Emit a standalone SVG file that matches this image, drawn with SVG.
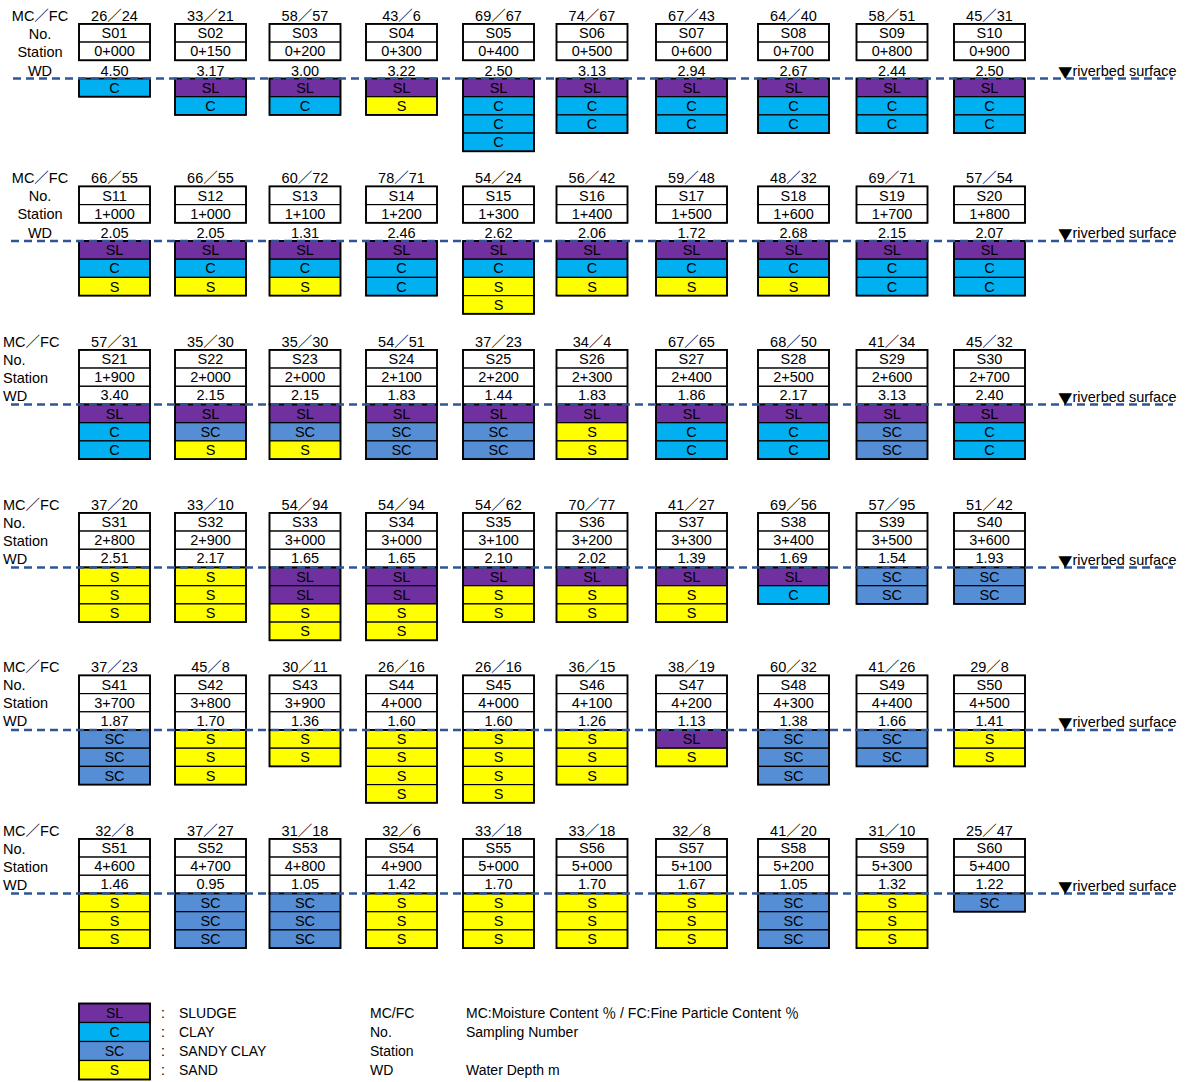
<svg xmlns="http://www.w3.org/2000/svg" width="1192" height="1082" viewBox="0 0 1192 1082">
<style>
text{font-family:"Liberation Sans","Noto Sans CJK JP",sans-serif;font-size:14.5px;fill:#000;dominant-baseline:central}
.v{text-anchor:middle}
.lc{text-anchor:middle}
.tri{font-family:"Noto Sans CJK JP",sans-serif}
#legend text{font-size:14px}
rect{stroke:#000;stroke-width:1.2}
.h{fill:#fff}
.SL{fill:#7030A0}
.C{fill:#00B0F0}
.SC{fill:#558ED5}
.S{fill:#FFFF00}
.o{fill:none;stroke-width:1.8}
.dash{stroke:#2F5597;stroke-width:2.4;stroke-dasharray:8 5;fill:none}
</style>
<defs>
<g id="hdr3"><rect class="h" x="0" y="-54.6" width="71" height="18.2"/><rect class="h" x="0" y="-36.4" width="71" height="18.2"/><rect class="h" x="0" y="-18.2" width="71" height="18.2"/><rect class="o" x="0" y="-54.6" width="71" height="54.6"/></g>
<g id="hdr2"><rect class="h" x="0" y="-54.6" width="71" height="18.2"/><rect class="h" x="0" y="-36.4" width="71" height="18.2"/><rect class="o" x="0" y="-54.6" width="71" height="36.4"/></g>
</defs>

<!-- Row labels -->
<g id="labels-row1"><text class="lc" x="40" y="15.5">MC／FC</text><text class="lc" x="40" y="33.5">No.</text><text class="lc" x="40" y="51.5">Station</text><text class="lc" x="40" y="70.5">WD</text></g>
<g id="labels-row2"><text class="lc" x="40" y="178">MC／FC</text><text class="lc" x="40" y="196">No.</text><text class="lc" x="40" y="214">Station</text><text class="lc" x="40" y="233">WD</text></g>
<g id="labels-row3"><text x="3" y="341.5">MC／FC</text><text x="3" y="359.5">No.</text><text x="3" y="377.5">Station</text><text x="3" y="395.5">WD</text></g>
<g id="labels-row4"><text x="3" y="504.5">MC／FC</text><text x="3" y="522.5">No.</text><text x="3" y="540.5">Station</text><text x="3" y="558.5">WD</text></g>
<g id="labels-row5"><text x="3" y="667">MC／FC</text><text x="3" y="685">No.</text><text x="3" y="703">Station</text><text x="3" y="721">WD</text></g>
<g id="labels-row6"><text x="3" y="830.5">MC／FC</text><text x="3" y="848.5">No.</text><text x="3" y="866.5">Station</text><text x="3" y="884.5">WD</text></g>

<!-- ROW 1 -->
<g id="S01" transform="translate(79,78.5)"><use href="#hdr2"/><text class="v" x="35.5" y="-63">26／24</text><text class="v" x="35.5" y="-45.5">S01</text><text class="v" x="35.5" y="-27.3">0+000</text><text class="v" x="35.5" y="-8">4.50</text>
<rect class="C" x="0" y="0" width="71" height="18.2"/><text class="v" x="35.5" y="9.1">C</text><rect class="o" x="0" y="0" width="71" height="18.2"/></g>
<g id="S02" transform="translate(175,78.5)"><use href="#hdr2"/><text class="v" x="35.5" y="-63">33／21</text><text class="v" x="35.5" y="-45.5">S02</text><text class="v" x="35.5" y="-27.3">0+150</text><text class="v" x="35.5" y="-8">3.17</text>
<rect class="SL" x="0" y="0" width="71" height="18.2"/><text class="v" x="35.5" y="9.1">SL</text><rect class="C" x="0" y="18.2" width="71" height="18.2"/><text class="v" x="35.5" y="27.3">C</text><rect class="o" x="0" y="0" width="71" height="36.4"/></g>
<g id="S03" transform="translate(269.5,78.5)"><use href="#hdr2"/><text class="v" x="35.5" y="-63">58／57</text><text class="v" x="35.5" y="-45.5">S03</text><text class="v" x="35.5" y="-27.3">0+200</text><text class="v" x="35.5" y="-8">3.00</text>
<rect class="SL" x="0" y="0" width="71" height="18.2"/><text class="v" x="35.5" y="9.1">SL</text><rect class="C" x="0" y="18.2" width="71" height="18.2"/><text class="v" x="35.5" y="27.3">C</text><rect class="o" x="0" y="0" width="71" height="36.4"/></g>
<g id="S04" transform="translate(366,78.5)"><use href="#hdr2"/><text class="v" x="35.5" y="-63">43／6</text><text class="v" x="35.5" y="-45.5">S04</text><text class="v" x="35.5" y="-27.3">0+300</text><text class="v" x="35.5" y="-8">3.22</text>
<rect class="SL" x="0" y="0" width="71" height="18.2"/><text class="v" x="35.5" y="9.1">SL</text><rect class="S" x="0" y="18.2" width="71" height="18.2"/><text class="v" x="35.5" y="27.3">S</text><rect class="o" x="0" y="0" width="71" height="36.4"/></g>
<g id="S05" transform="translate(463,78.5)"><use href="#hdr2"/><text class="v" x="35.5" y="-63">69／67</text><text class="v" x="35.5" y="-45.5">S05</text><text class="v" x="35.5" y="-27.3">0+400</text><text class="v" x="35.5" y="-8">2.50</text>
<rect class="SL" x="0" y="0" width="71" height="18.2"/><text class="v" x="35.5" y="9.1">SL</text><rect class="C" x="0" y="18.2" width="71" height="18.2"/><text class="v" x="35.5" y="27.3">C</text><rect class="C" x="0" y="36.4" width="71" height="18.2"/><text class="v" x="35.5" y="45.5">C</text><rect class="C" x="0" y="54.6" width="71" height="18.2"/><text class="v" x="35.5" y="63.7">C</text><rect class="o" x="0" y="0" width="71" height="72.8"/></g>
<g id="S06" transform="translate(556.5,78.5)"><use href="#hdr2"/><text class="v" x="35.5" y="-63">74／67</text><text class="v" x="35.5" y="-45.5">S06</text><text class="v" x="35.5" y="-27.3">0+500</text><text class="v" x="35.5" y="-8">3.13</text>
<rect class="SL" x="0" y="0" width="71" height="18.2"/><text class="v" x="35.5" y="9.1">SL</text><rect class="C" x="0" y="18.2" width="71" height="18.2"/><text class="v" x="35.5" y="27.3">C</text><rect class="C" x="0" y="36.4" width="71" height="18.2"/><text class="v" x="35.5" y="45.5">C</text><rect class="o" x="0" y="0" width="71" height="54.6"/></g>
<g id="S07" transform="translate(656,78.5)"><use href="#hdr2"/><text class="v" x="35.5" y="-63">67／43</text><text class="v" x="35.5" y="-45.5">S07</text><text class="v" x="35.5" y="-27.3">0+600</text><text class="v" x="35.5" y="-8">2.94</text>
<rect class="SL" x="0" y="0" width="71" height="18.2"/><text class="v" x="35.5" y="9.1">SL</text><rect class="C" x="0" y="18.2" width="71" height="18.2"/><text class="v" x="35.5" y="27.3">C</text><rect class="C" x="0" y="36.4" width="71" height="18.2"/><text class="v" x="35.5" y="45.5">C</text><rect class="o" x="0" y="0" width="71" height="54.6"/></g>
<g id="S08" transform="translate(758,78.5)"><use href="#hdr2"/><text class="v" x="35.5" y="-63">64／40</text><text class="v" x="35.5" y="-45.5">S08</text><text class="v" x="35.5" y="-27.3">0+700</text><text class="v" x="35.5" y="-8">2.67</text>
<rect class="SL" x="0" y="0" width="71" height="18.2"/><text class="v" x="35.5" y="9.1">SL</text><rect class="C" x="0" y="18.2" width="71" height="18.2"/><text class="v" x="35.5" y="27.3">C</text><rect class="C" x="0" y="36.4" width="71" height="18.2"/><text class="v" x="35.5" y="45.5">C</text><rect class="o" x="0" y="0" width="71" height="54.6"/></g>
<g id="S09" transform="translate(856.5,78.5)"><use href="#hdr2"/><text class="v" x="35.5" y="-63">58／51</text><text class="v" x="35.5" y="-45.5">S09</text><text class="v" x="35.5" y="-27.3">0+800</text><text class="v" x="35.5" y="-8">2.44</text>
<rect class="SL" x="0" y="0" width="71" height="18.2"/><text class="v" x="35.5" y="9.1">SL</text><rect class="C" x="0" y="18.2" width="71" height="18.2"/><text class="v" x="35.5" y="27.3">C</text><rect class="C" x="0" y="36.4" width="71" height="18.2"/><text class="v" x="35.5" y="45.5">C</text><rect class="o" x="0" y="0" width="71" height="54.6"/></g>
<g id="S10" transform="translate(954,78.5)"><use href="#hdr2"/><text class="v" x="35.5" y="-63">45／31</text><text class="v" x="35.5" y="-45.5">S10</text><text class="v" x="35.5" y="-27.3">0+900</text><text class="v" x="35.5" y="-8">2.50</text>
<rect class="SL" x="0" y="0" width="71" height="18.2"/><text class="v" x="35.5" y="9.1">SL</text><rect class="C" x="0" y="18.2" width="71" height="18.2"/><text class="v" x="35.5" y="27.3">C</text><rect class="C" x="0" y="36.4" width="71" height="18.2"/><text class="v" x="35.5" y="45.5">C</text><rect class="o" x="0" y="0" width="71" height="54.6"/></g>

<!-- ROW 2 -->
<g id="S11" transform="translate(79,241)"><use href="#hdr2"/><text class="v" x="35.5" y="-63">66／55</text><text class="v" x="35.5" y="-45.5">S11</text><text class="v" x="35.5" y="-27.3">1+000</text><text class="v" x="35.5" y="-8">2.05</text>
<rect class="SL" x="0" y="0" width="71" height="18.2"/><text class="v" x="35.5" y="9.1">SL</text><rect class="C" x="0" y="18.2" width="71" height="18.2"/><text class="v" x="35.5" y="27.3">C</text><rect class="S" x="0" y="36.4" width="71" height="18.2"/><text class="v" x="35.5" y="45.5">S</text><rect class="o" x="0" y="0" width="71" height="54.6"/></g>
<g id="S12" transform="translate(175,241)"><use href="#hdr2"/><text class="v" x="35.5" y="-63">66／55</text><text class="v" x="35.5" y="-45.5">S12</text><text class="v" x="35.5" y="-27.3">1+000</text><text class="v" x="35.5" y="-8">2.05</text>
<rect class="SL" x="0" y="0" width="71" height="18.2"/><text class="v" x="35.5" y="9.1">SL</text><rect class="C" x="0" y="18.2" width="71" height="18.2"/><text class="v" x="35.5" y="27.3">C</text><rect class="S" x="0" y="36.4" width="71" height="18.2"/><text class="v" x="35.5" y="45.5">S</text><rect class="o" x="0" y="0" width="71" height="54.6"/></g>
<g id="S13" transform="translate(269.5,241)"><use href="#hdr2"/><text class="v" x="35.5" y="-63">60／72</text><text class="v" x="35.5" y="-45.5">S13</text><text class="v" x="35.5" y="-27.3">1+100</text><text class="v" x="35.5" y="-8">1.31</text>
<rect class="SL" x="0" y="0" width="71" height="18.2"/><text class="v" x="35.5" y="9.1">SL</text><rect class="C" x="0" y="18.2" width="71" height="18.2"/><text class="v" x="35.5" y="27.3">C</text><rect class="S" x="0" y="36.4" width="71" height="18.2"/><text class="v" x="35.5" y="45.5">S</text><rect class="o" x="0" y="0" width="71" height="54.6"/></g>
<g id="S14" transform="translate(366,241)"><use href="#hdr2"/><text class="v" x="35.5" y="-63">78／71</text><text class="v" x="35.5" y="-45.5">S14</text><text class="v" x="35.5" y="-27.3">1+200</text><text class="v" x="35.5" y="-8">2.46</text>
<rect class="SL" x="0" y="0" width="71" height="18.2"/><text class="v" x="35.5" y="9.1">SL</text><rect class="C" x="0" y="18.2" width="71" height="18.2"/><text class="v" x="35.5" y="27.3">C</text><rect class="C" x="0" y="36.4" width="71" height="18.2"/><text class="v" x="35.5" y="45.5">C</text><rect class="o" x="0" y="0" width="71" height="54.6"/></g>
<g id="S15" transform="translate(463,241)"><use href="#hdr2"/><text class="v" x="35.5" y="-63">54／24</text><text class="v" x="35.5" y="-45.5">S15</text><text class="v" x="35.5" y="-27.3">1+300</text><text class="v" x="35.5" y="-8">2.62</text>
<rect class="SL" x="0" y="0" width="71" height="18.2"/><text class="v" x="35.5" y="9.1">SL</text><rect class="C" x="0" y="18.2" width="71" height="18.2"/><text class="v" x="35.5" y="27.3">C</text><rect class="S" x="0" y="36.4" width="71" height="18.2"/><text class="v" x="35.5" y="45.5">S</text><rect class="S" x="0" y="54.6" width="71" height="18.2"/><text class="v" x="35.5" y="63.7">S</text><rect class="o" x="0" y="0" width="71" height="72.8"/></g>
<g id="S16" transform="translate(556.5,241)"><use href="#hdr2"/><text class="v" x="35.5" y="-63">56／42</text><text class="v" x="35.5" y="-45.5">S16</text><text class="v" x="35.5" y="-27.3">1+400</text><text class="v" x="35.5" y="-8">2.06</text>
<rect class="SL" x="0" y="0" width="71" height="18.2"/><text class="v" x="35.5" y="9.1">SL</text><rect class="C" x="0" y="18.2" width="71" height="18.2"/><text class="v" x="35.5" y="27.3">C</text><rect class="S" x="0" y="36.4" width="71" height="18.2"/><text class="v" x="35.5" y="45.5">S</text><rect class="o" x="0" y="0" width="71" height="54.6"/></g>
<g id="S17" transform="translate(656,241)"><use href="#hdr2"/><text class="v" x="35.5" y="-63">59／48</text><text class="v" x="35.5" y="-45.5">S17</text><text class="v" x="35.5" y="-27.3">1+500</text><text class="v" x="35.5" y="-8">1.72</text>
<rect class="SL" x="0" y="0" width="71" height="18.2"/><text class="v" x="35.5" y="9.1">SL</text><rect class="C" x="0" y="18.2" width="71" height="18.2"/><text class="v" x="35.5" y="27.3">C</text><rect class="S" x="0" y="36.4" width="71" height="18.2"/><text class="v" x="35.5" y="45.5">S</text><rect class="o" x="0" y="0" width="71" height="54.6"/></g>
<g id="S18" transform="translate(758,241)"><use href="#hdr2"/><text class="v" x="35.5" y="-63">48／32</text><text class="v" x="35.5" y="-45.5">S18</text><text class="v" x="35.5" y="-27.3">1+600</text><text class="v" x="35.5" y="-8">2.68</text>
<rect class="SL" x="0" y="0" width="71" height="18.2"/><text class="v" x="35.5" y="9.1">SL</text><rect class="C" x="0" y="18.2" width="71" height="18.2"/><text class="v" x="35.5" y="27.3">C</text><rect class="S" x="0" y="36.4" width="71" height="18.2"/><text class="v" x="35.5" y="45.5">S</text><rect class="o" x="0" y="0" width="71" height="54.6"/></g>
<g id="S19" transform="translate(856.5,241)"><use href="#hdr2"/><text class="v" x="35.5" y="-63">69／71</text><text class="v" x="35.5" y="-45.5">S19</text><text class="v" x="35.5" y="-27.3">1+700</text><text class="v" x="35.5" y="-8">2.15</text>
<rect class="SL" x="0" y="0" width="71" height="18.2"/><text class="v" x="35.5" y="9.1">SL</text><rect class="C" x="0" y="18.2" width="71" height="18.2"/><text class="v" x="35.5" y="27.3">C</text><rect class="C" x="0" y="36.4" width="71" height="18.2"/><text class="v" x="35.5" y="45.5">C</text><rect class="o" x="0" y="0" width="71" height="54.6"/></g>
<g id="S20" transform="translate(954,241)"><use href="#hdr2"/><text class="v" x="35.5" y="-63">57／54</text><text class="v" x="35.5" y="-45.5">S20</text><text class="v" x="35.5" y="-27.3">1+800</text><text class="v" x="35.5" y="-8">2.07</text>
<rect class="SL" x="0" y="0" width="71" height="18.2"/><text class="v" x="35.5" y="9.1">SL</text><rect class="C" x="0" y="18.2" width="71" height="18.2"/><text class="v" x="35.5" y="27.3">C</text><rect class="C" x="0" y="36.4" width="71" height="18.2"/><text class="v" x="35.5" y="45.5">C</text><rect class="o" x="0" y="0" width="71" height="54.6"/></g>

<!-- ROW 3 -->
<g id="S21" transform="translate(79,404.5)"><use href="#hdr3"/><text class="v" x="35.5" y="-63">57／31</text><text class="v" x="35.5" y="-45.5">S21</text><text class="v" x="35.5" y="-27.3">1+900</text><text class="v" x="35.5" y="-9.1">3.40</text>
<rect class="SL" x="0" y="0" width="71" height="18.2"/><text class="v" x="35.5" y="9.1">SL</text><rect class="C" x="0" y="18.2" width="71" height="18.2"/><text class="v" x="35.5" y="27.3">C</text><rect class="C" x="0" y="36.4" width="71" height="18.2"/><text class="v" x="35.5" y="45.5">C</text><rect class="o" x="0" y="0" width="71" height="54.6"/></g>
<g id="S22" transform="translate(175,404.5)"><use href="#hdr3"/><text class="v" x="35.5" y="-63">35／30</text><text class="v" x="35.5" y="-45.5">S22</text><text class="v" x="35.5" y="-27.3">2+000</text><text class="v" x="35.5" y="-9.1">2.15</text>
<rect class="SL" x="0" y="0" width="71" height="18.2"/><text class="v" x="35.5" y="9.1">SL</text><rect class="SC" x="0" y="18.2" width="71" height="18.2"/><text class="v" x="35.5" y="27.3">SC</text><rect class="S" x="0" y="36.4" width="71" height="18.2"/><text class="v" x="35.5" y="45.5">S</text><rect class="o" x="0" y="0" width="71" height="54.6"/></g>
<g id="S23" transform="translate(269.5,404.5)"><use href="#hdr3"/><text class="v" x="35.5" y="-63">35／30</text><text class="v" x="35.5" y="-45.5">S23</text><text class="v" x="35.5" y="-27.3">2+000</text><text class="v" x="35.5" y="-9.1">2.15</text>
<rect class="SL" x="0" y="0" width="71" height="18.2"/><text class="v" x="35.5" y="9.1">SL</text><rect class="SC" x="0" y="18.2" width="71" height="18.2"/><text class="v" x="35.5" y="27.3">SC</text><rect class="S" x="0" y="36.4" width="71" height="18.2"/><text class="v" x="35.5" y="45.5">S</text><rect class="o" x="0" y="0" width="71" height="54.6"/></g>
<g id="S24" transform="translate(366,404.5)"><use href="#hdr3"/><text class="v" x="35.5" y="-63">54／51</text><text class="v" x="35.5" y="-45.5">S24</text><text class="v" x="35.5" y="-27.3">2+100</text><text class="v" x="35.5" y="-9.1">1.83</text>
<rect class="SL" x="0" y="0" width="71" height="18.2"/><text class="v" x="35.5" y="9.1">SL</text><rect class="SC" x="0" y="18.2" width="71" height="18.2"/><text class="v" x="35.5" y="27.3">SC</text><rect class="SC" x="0" y="36.4" width="71" height="18.2"/><text class="v" x="35.5" y="45.5">SC</text><rect class="o" x="0" y="0" width="71" height="54.6"/></g>
<g id="S25" transform="translate(463,404.5)"><use href="#hdr3"/><text class="v" x="35.5" y="-63">37／23</text><text class="v" x="35.5" y="-45.5">S25</text><text class="v" x="35.5" y="-27.3">2+200</text><text class="v" x="35.5" y="-9.1">1.44</text>
<rect class="SL" x="0" y="0" width="71" height="18.2"/><text class="v" x="35.5" y="9.1">SL</text><rect class="SC" x="0" y="18.2" width="71" height="18.2"/><text class="v" x="35.5" y="27.3">SC</text><rect class="SC" x="0" y="36.4" width="71" height="18.2"/><text class="v" x="35.5" y="45.5">SC</text><rect class="o" x="0" y="0" width="71" height="54.6"/></g>
<g id="S26" transform="translate(556.5,404.5)"><use href="#hdr3"/><text class="v" x="35.5" y="-63">34／4</text><text class="v" x="35.5" y="-45.5">S26</text><text class="v" x="35.5" y="-27.3">2+300</text><text class="v" x="35.5" y="-9.1">1.83</text>
<rect class="SL" x="0" y="0" width="71" height="18.2"/><text class="v" x="35.5" y="9.1">SL</text><rect class="S" x="0" y="18.2" width="71" height="18.2"/><text class="v" x="35.5" y="27.3">S</text><rect class="S" x="0" y="36.4" width="71" height="18.2"/><text class="v" x="35.5" y="45.5">S</text><rect class="o" x="0" y="0" width="71" height="54.6"/></g>
<g id="S27" transform="translate(656,404.5)"><use href="#hdr3"/><text class="v" x="35.5" y="-63">67／65</text><text class="v" x="35.5" y="-45.5">S27</text><text class="v" x="35.5" y="-27.3">2+400</text><text class="v" x="35.5" y="-9.1">1.86</text>
<rect class="SL" x="0" y="0" width="71" height="18.2"/><text class="v" x="35.5" y="9.1">SL</text><rect class="C" x="0" y="18.2" width="71" height="18.2"/><text class="v" x="35.5" y="27.3">C</text><rect class="C" x="0" y="36.4" width="71" height="18.2"/><text class="v" x="35.5" y="45.5">C</text><rect class="o" x="0" y="0" width="71" height="54.6"/></g>
<g id="S28" transform="translate(758,404.5)"><use href="#hdr3"/><text class="v" x="35.5" y="-63">68／50</text><text class="v" x="35.5" y="-45.5">S28</text><text class="v" x="35.5" y="-27.3">2+500</text><text class="v" x="35.5" y="-9.1">2.17</text>
<rect class="SL" x="0" y="0" width="71" height="18.2"/><text class="v" x="35.5" y="9.1">SL</text><rect class="C" x="0" y="18.2" width="71" height="18.2"/><text class="v" x="35.5" y="27.3">C</text><rect class="C" x="0" y="36.4" width="71" height="18.2"/><text class="v" x="35.5" y="45.5">C</text><rect class="o" x="0" y="0" width="71" height="54.6"/></g>
<g id="S29" transform="translate(856.5,404.5)"><use href="#hdr3"/><text class="v" x="35.5" y="-63">41／34</text><text class="v" x="35.5" y="-45.5">S29</text><text class="v" x="35.5" y="-27.3">2+600</text><text class="v" x="35.5" y="-9.1">3.13</text>
<rect class="SL" x="0" y="0" width="71" height="18.2"/><text class="v" x="35.5" y="9.1">SL</text><rect class="SC" x="0" y="18.2" width="71" height="18.2"/><text class="v" x="35.5" y="27.3">SC</text><rect class="SC" x="0" y="36.4" width="71" height="18.2"/><text class="v" x="35.5" y="45.5">SC</text><rect class="o" x="0" y="0" width="71" height="54.6"/></g>
<g id="S30" transform="translate(954,404.5)"><use href="#hdr3"/><text class="v" x="35.5" y="-63">45／32</text><text class="v" x="35.5" y="-45.5">S30</text><text class="v" x="35.5" y="-27.3">2+700</text><text class="v" x="35.5" y="-9.1">2.40</text>
<rect class="SL" x="0" y="0" width="71" height="18.2"/><text class="v" x="35.5" y="9.1">SL</text><rect class="C" x="0" y="18.2" width="71" height="18.2"/><text class="v" x="35.5" y="27.3">C</text><rect class="C" x="0" y="36.4" width="71" height="18.2"/><text class="v" x="35.5" y="45.5">C</text><rect class="o" x="0" y="0" width="71" height="54.6"/></g>

<!-- ROW 4 -->
<g id="S31" transform="translate(79,567.5)"><use href="#hdr3"/><text class="v" x="35.5" y="-63">37／20</text><text class="v" x="35.5" y="-45.5">S31</text><text class="v" x="35.5" y="-27.3">2+800</text><text class="v" x="35.5" y="-9.1">2.51</text>
<rect class="S" x="0" y="0" width="71" height="18.2"/><text class="v" x="35.5" y="9.1">S</text><rect class="S" x="0" y="18.2" width="71" height="18.2"/><text class="v" x="35.5" y="27.3">S</text><rect class="S" x="0" y="36.4" width="71" height="18.2"/><text class="v" x="35.5" y="45.5">S</text><rect class="o" x="0" y="0" width="71" height="54.6"/></g>
<g id="S32" transform="translate(175,567.5)"><use href="#hdr3"/><text class="v" x="35.5" y="-63">33／10</text><text class="v" x="35.5" y="-45.5">S32</text><text class="v" x="35.5" y="-27.3">2+900</text><text class="v" x="35.5" y="-9.1">2.17</text>
<rect class="S" x="0" y="0" width="71" height="18.2"/><text class="v" x="35.5" y="9.1">S</text><rect class="S" x="0" y="18.2" width="71" height="18.2"/><text class="v" x="35.5" y="27.3">S</text><rect class="S" x="0" y="36.4" width="71" height="18.2"/><text class="v" x="35.5" y="45.5">S</text><rect class="o" x="0" y="0" width="71" height="54.6"/></g>
<g id="S33" transform="translate(269.5,567.5)"><use href="#hdr3"/><text class="v" x="35.5" y="-63">54／94</text><text class="v" x="35.5" y="-45.5">S33</text><text class="v" x="35.5" y="-27.3">3+000</text><text class="v" x="35.5" y="-9.1">1.65</text>
<rect class="SL" x="0" y="0" width="71" height="18.2"/><text class="v" x="35.5" y="9.1">SL</text><rect class="SL" x="0" y="18.2" width="71" height="18.2"/><text class="v" x="35.5" y="27.3">SL</text><rect class="S" x="0" y="36.4" width="71" height="18.2"/><text class="v" x="35.5" y="45.5">S</text><rect class="S" x="0" y="54.6" width="71" height="18.2"/><text class="v" x="35.5" y="63.7">S</text><rect class="o" x="0" y="0" width="71" height="72.8"/></g>
<g id="S34" transform="translate(366,567.5)"><use href="#hdr3"/><text class="v" x="35.5" y="-63">54／94</text><text class="v" x="35.5" y="-45.5">S34</text><text class="v" x="35.5" y="-27.3">3+000</text><text class="v" x="35.5" y="-9.1">1.65</text>
<rect class="SL" x="0" y="0" width="71" height="18.2"/><text class="v" x="35.5" y="9.1">SL</text><rect class="SL" x="0" y="18.2" width="71" height="18.2"/><text class="v" x="35.5" y="27.3">SL</text><rect class="S" x="0" y="36.4" width="71" height="18.2"/><text class="v" x="35.5" y="45.5">S</text><rect class="S" x="0" y="54.6" width="71" height="18.2"/><text class="v" x="35.5" y="63.7">S</text><rect class="o" x="0" y="0" width="71" height="72.8"/></g>
<g id="S35" transform="translate(463,567.5)"><use href="#hdr3"/><text class="v" x="35.5" y="-63">54／62</text><text class="v" x="35.5" y="-45.5">S35</text><text class="v" x="35.5" y="-27.3">3+100</text><text class="v" x="35.5" y="-9.1">2.10</text>
<rect class="SL" x="0" y="0" width="71" height="18.2"/><text class="v" x="35.5" y="9.1">SL</text><rect class="S" x="0" y="18.2" width="71" height="18.2"/><text class="v" x="35.5" y="27.3">S</text><rect class="S" x="0" y="36.4" width="71" height="18.2"/><text class="v" x="35.5" y="45.5">S</text><rect class="o" x="0" y="0" width="71" height="54.6"/></g>
<g id="S36" transform="translate(556.5,567.5)"><use href="#hdr3"/><text class="v" x="35.5" y="-63">70／77</text><text class="v" x="35.5" y="-45.5">S36</text><text class="v" x="35.5" y="-27.3">3+200</text><text class="v" x="35.5" y="-9.1">2.02</text>
<rect class="SL" x="0" y="0" width="71" height="18.2"/><text class="v" x="35.5" y="9.1">SL</text><rect class="S" x="0" y="18.2" width="71" height="18.2"/><text class="v" x="35.5" y="27.3">S</text><rect class="S" x="0" y="36.4" width="71" height="18.2"/><text class="v" x="35.5" y="45.5">S</text><rect class="o" x="0" y="0" width="71" height="54.6"/></g>
<g id="S37" transform="translate(656,567.5)"><use href="#hdr3"/><text class="v" x="35.5" y="-63">41／27</text><text class="v" x="35.5" y="-45.5">S37</text><text class="v" x="35.5" y="-27.3">3+300</text><text class="v" x="35.5" y="-9.1">1.39</text>
<rect class="SL" x="0" y="0" width="71" height="18.2"/><text class="v" x="35.5" y="9.1">SL</text><rect class="S" x="0" y="18.2" width="71" height="18.2"/><text class="v" x="35.5" y="27.3">S</text><rect class="S" x="0" y="36.4" width="71" height="18.2"/><text class="v" x="35.5" y="45.5">S</text><rect class="o" x="0" y="0" width="71" height="54.6"/></g>
<g id="S38" transform="translate(758,567.5)"><use href="#hdr3"/><text class="v" x="35.5" y="-63">69／56</text><text class="v" x="35.5" y="-45.5">S38</text><text class="v" x="35.5" y="-27.3">3+400</text><text class="v" x="35.5" y="-9.1">1.69</text>
<rect class="SL" x="0" y="0" width="71" height="18.2"/><text class="v" x="35.5" y="9.1">SL</text><rect class="C" x="0" y="18.2" width="71" height="18.2"/><text class="v" x="35.5" y="27.3">C</text><rect class="o" x="0" y="0" width="71" height="36.4"/></g>
<g id="S39" transform="translate(856.5,567.5)"><use href="#hdr3"/><text class="v" x="35.5" y="-63">57／95</text><text class="v" x="35.5" y="-45.5">S39</text><text class="v" x="35.5" y="-27.3">3+500</text><text class="v" x="35.5" y="-9.1">1.54</text>
<rect class="SC" x="0" y="0" width="71" height="18.2"/><text class="v" x="35.5" y="9.1">SC</text><rect class="SC" x="0" y="18.2" width="71" height="18.2"/><text class="v" x="35.5" y="27.3">SC</text><rect class="o" x="0" y="0" width="71" height="36.4"/></g>
<g id="S40" transform="translate(954,567.5)"><use href="#hdr3"/><text class="v" x="35.5" y="-63">51／42</text><text class="v" x="35.5" y="-45.5">S40</text><text class="v" x="35.5" y="-27.3">3+600</text><text class="v" x="35.5" y="-9.1">1.93</text>
<rect class="SC" x="0" y="0" width="71" height="18.2"/><text class="v" x="35.5" y="9.1">SC</text><rect class="SC" x="0" y="18.2" width="71" height="18.2"/><text class="v" x="35.5" y="27.3">SC</text><rect class="o" x="0" y="0" width="71" height="36.4"/></g>

<!-- ROW 5 -->
<g id="S41" transform="translate(79,730)"><use href="#hdr3"/><text class="v" x="35.5" y="-63">37／23</text><text class="v" x="35.5" y="-45.5">S41</text><text class="v" x="35.5" y="-27.3">3+700</text><text class="v" x="35.5" y="-9.1">1.87</text>
<rect class="SC" x="0" y="0" width="71" height="18.2"/><text class="v" x="35.5" y="9.1">SC</text><rect class="SC" x="0" y="18.2" width="71" height="18.2"/><text class="v" x="35.5" y="27.3">SC</text><rect class="SC" x="0" y="36.4" width="71" height="18.2"/><text class="v" x="35.5" y="45.5">SC</text><rect class="o" x="0" y="0" width="71" height="54.6"/></g>
<g id="S42" transform="translate(175,730)"><use href="#hdr3"/><text class="v" x="35.5" y="-63">45／8</text><text class="v" x="35.5" y="-45.5">S42</text><text class="v" x="35.5" y="-27.3">3+800</text><text class="v" x="35.5" y="-9.1">1.70</text>
<rect class="S" x="0" y="0" width="71" height="18.2"/><text class="v" x="35.5" y="9.1">S</text><rect class="S" x="0" y="18.2" width="71" height="18.2"/><text class="v" x="35.5" y="27.3">S</text><rect class="S" x="0" y="36.4" width="71" height="18.2"/><text class="v" x="35.5" y="45.5">S</text><rect class="o" x="0" y="0" width="71" height="54.6"/></g>
<g id="S43" transform="translate(269.5,730)"><use href="#hdr3"/><text class="v" x="35.5" y="-63">30／11</text><text class="v" x="35.5" y="-45.5">S43</text><text class="v" x="35.5" y="-27.3">3+900</text><text class="v" x="35.5" y="-9.1">1.36</text>
<rect class="S" x="0" y="0" width="71" height="18.2"/><text class="v" x="35.5" y="9.1">S</text><rect class="S" x="0" y="18.2" width="71" height="18.2"/><text class="v" x="35.5" y="27.3">S</text><rect class="o" x="0" y="0" width="71" height="36.4"/></g>
<g id="S44" transform="translate(366,730)"><use href="#hdr3"/><text class="v" x="35.5" y="-63">26／16</text><text class="v" x="35.5" y="-45.5">S44</text><text class="v" x="35.5" y="-27.3">4+000</text><text class="v" x="35.5" y="-9.1">1.60</text>
<rect class="S" x="0" y="0" width="71" height="18.2"/><text class="v" x="35.5" y="9.1">S</text><rect class="S" x="0" y="18.2" width="71" height="18.2"/><text class="v" x="35.5" y="27.3">S</text><rect class="S" x="0" y="36.4" width="71" height="18.2"/><text class="v" x="35.5" y="45.5">S</text><rect class="S" x="0" y="54.6" width="71" height="18.2"/><text class="v" x="35.5" y="63.7">S</text><rect class="o" x="0" y="0" width="71" height="72.8"/></g>
<g id="S45" transform="translate(463,730)"><use href="#hdr3"/><text class="v" x="35.5" y="-63">26／16</text><text class="v" x="35.5" y="-45.5">S45</text><text class="v" x="35.5" y="-27.3">4+000</text><text class="v" x="35.5" y="-9.1">1.60</text>
<rect class="S" x="0" y="0" width="71" height="18.2"/><text class="v" x="35.5" y="9.1">S</text><rect class="S" x="0" y="18.2" width="71" height="18.2"/><text class="v" x="35.5" y="27.3">S</text><rect class="S" x="0" y="36.4" width="71" height="18.2"/><text class="v" x="35.5" y="45.5">S</text><rect class="S" x="0" y="54.6" width="71" height="18.2"/><text class="v" x="35.5" y="63.7">S</text><rect class="o" x="0" y="0" width="71" height="72.8"/></g>
<g id="S46" transform="translate(556.5,730)"><use href="#hdr3"/><text class="v" x="35.5" y="-63">36／15</text><text class="v" x="35.5" y="-45.5">S46</text><text class="v" x="35.5" y="-27.3">4+100</text><text class="v" x="35.5" y="-9.1">1.26</text>
<rect class="S" x="0" y="0" width="71" height="18.2"/><text class="v" x="35.5" y="9.1">S</text><rect class="S" x="0" y="18.2" width="71" height="18.2"/><text class="v" x="35.5" y="27.3">S</text><rect class="S" x="0" y="36.4" width="71" height="18.2"/><text class="v" x="35.5" y="45.5">S</text><rect class="o" x="0" y="0" width="71" height="54.6"/></g>
<g id="S47" transform="translate(656,730)"><use href="#hdr3"/><text class="v" x="35.5" y="-63">38／19</text><text class="v" x="35.5" y="-45.5">S47</text><text class="v" x="35.5" y="-27.3">4+200</text><text class="v" x="35.5" y="-9.1">1.13</text>
<rect class="SL" x="0" y="0" width="71" height="18.2"/><text class="v" x="35.5" y="9.1">SL</text><rect class="S" x="0" y="18.2" width="71" height="18.2"/><text class="v" x="35.5" y="27.3">S</text><rect class="o" x="0" y="0" width="71" height="36.4"/></g>
<g id="S48" transform="translate(758,730)"><use href="#hdr3"/><text class="v" x="35.5" y="-63">60／32</text><text class="v" x="35.5" y="-45.5">S48</text><text class="v" x="35.5" y="-27.3">4+300</text><text class="v" x="35.5" y="-9.1">1.38</text>
<rect class="SC" x="0" y="0" width="71" height="18.2"/><text class="v" x="35.5" y="9.1">SC</text><rect class="SC" x="0" y="18.2" width="71" height="18.2"/><text class="v" x="35.5" y="27.3">SC</text><rect class="SC" x="0" y="36.4" width="71" height="18.2"/><text class="v" x="35.5" y="45.5">SC</text><rect class="o" x="0" y="0" width="71" height="54.6"/></g>
<g id="S49" transform="translate(856.5,730)"><use href="#hdr3"/><text class="v" x="35.5" y="-63">41／26</text><text class="v" x="35.5" y="-45.5">S49</text><text class="v" x="35.5" y="-27.3">4+400</text><text class="v" x="35.5" y="-9.1">1.66</text>
<rect class="SC" x="0" y="0" width="71" height="18.2"/><text class="v" x="35.5" y="9.1">SC</text><rect class="SC" x="0" y="18.2" width="71" height="18.2"/><text class="v" x="35.5" y="27.3">SC</text><rect class="o" x="0" y="0" width="71" height="36.4"/></g>
<g id="S50" transform="translate(954,730)"><use href="#hdr3"/><text class="v" x="35.5" y="-63">29／8</text><text class="v" x="35.5" y="-45.5">S50</text><text class="v" x="35.5" y="-27.3">4+500</text><text class="v" x="35.5" y="-9.1">1.41</text>
<rect class="S" x="0" y="0" width="71" height="18.2"/><text class="v" x="35.5" y="9.1">S</text><rect class="S" x="0" y="18.2" width="71" height="18.2"/><text class="v" x="35.5" y="27.3">S</text><rect class="o" x="0" y="0" width="71" height="36.4"/></g>

<!-- ROW 6 -->
<g id="S51" transform="translate(79,893.5)"><use href="#hdr3"/><text class="v" x="35.5" y="-63">32／8</text><text class="v" x="35.5" y="-45.5">S51</text><text class="v" x="35.5" y="-27.3">4+600</text><text class="v" x="35.5" y="-9.1">1.46</text>
<rect class="S" x="0" y="0" width="71" height="18.2"/><text class="v" x="35.5" y="9.1">S</text><rect class="S" x="0" y="18.2" width="71" height="18.2"/><text class="v" x="35.5" y="27.3">S</text><rect class="S" x="0" y="36.4" width="71" height="18.2"/><text class="v" x="35.5" y="45.5">S</text><rect class="o" x="0" y="0" width="71" height="54.6"/></g>
<g id="S52" transform="translate(175,893.5)"><use href="#hdr3"/><text class="v" x="35.5" y="-63">37／27</text><text class="v" x="35.5" y="-45.5">S52</text><text class="v" x="35.5" y="-27.3">4+700</text><text class="v" x="35.5" y="-9.1">0.95</text>
<rect class="SC" x="0" y="0" width="71" height="18.2"/><text class="v" x="35.5" y="9.1">SC</text><rect class="SC" x="0" y="18.2" width="71" height="18.2"/><text class="v" x="35.5" y="27.3">SC</text><rect class="SC" x="0" y="36.4" width="71" height="18.2"/><text class="v" x="35.5" y="45.5">SC</text><rect class="o" x="0" y="0" width="71" height="54.6"/></g>
<g id="S53" transform="translate(269.5,893.5)"><use href="#hdr3"/><text class="v" x="35.5" y="-63">31／18</text><text class="v" x="35.5" y="-45.5">S53</text><text class="v" x="35.5" y="-27.3">4+800</text><text class="v" x="35.5" y="-9.1">1.05</text>
<rect class="SC" x="0" y="0" width="71" height="18.2"/><text class="v" x="35.5" y="9.1">SC</text><rect class="SC" x="0" y="18.2" width="71" height="18.2"/><text class="v" x="35.5" y="27.3">SC</text><rect class="SC" x="0" y="36.4" width="71" height="18.2"/><text class="v" x="35.5" y="45.5">SC</text><rect class="o" x="0" y="0" width="71" height="54.6"/></g>
<g id="S54" transform="translate(366,893.5)"><use href="#hdr3"/><text class="v" x="35.5" y="-63">32／6</text><text class="v" x="35.5" y="-45.5">S54</text><text class="v" x="35.5" y="-27.3">4+900</text><text class="v" x="35.5" y="-9.1">1.42</text>
<rect class="S" x="0" y="0" width="71" height="18.2"/><text class="v" x="35.5" y="9.1">S</text><rect class="S" x="0" y="18.2" width="71" height="18.2"/><text class="v" x="35.5" y="27.3">S</text><rect class="S" x="0" y="36.4" width="71" height="18.2"/><text class="v" x="35.5" y="45.5">S</text><rect class="o" x="0" y="0" width="71" height="54.6"/></g>
<g id="S55" transform="translate(463,893.5)"><use href="#hdr3"/><text class="v" x="35.5" y="-63">33／18</text><text class="v" x="35.5" y="-45.5">S55</text><text class="v" x="35.5" y="-27.3">5+000</text><text class="v" x="35.5" y="-9.1">1.70</text>
<rect class="S" x="0" y="0" width="71" height="18.2"/><text class="v" x="35.5" y="9.1">S</text><rect class="S" x="0" y="18.2" width="71" height="18.2"/><text class="v" x="35.5" y="27.3">S</text><rect class="S" x="0" y="36.4" width="71" height="18.2"/><text class="v" x="35.5" y="45.5">S</text><rect class="o" x="0" y="0" width="71" height="54.6"/></g>
<g id="S56" transform="translate(556.5,893.5)"><use href="#hdr3"/><text class="v" x="35.5" y="-63">33／18</text><text class="v" x="35.5" y="-45.5">S56</text><text class="v" x="35.5" y="-27.3">5+000</text><text class="v" x="35.5" y="-9.1">1.70</text>
<rect class="S" x="0" y="0" width="71" height="18.2"/><text class="v" x="35.5" y="9.1">S</text><rect class="S" x="0" y="18.2" width="71" height="18.2"/><text class="v" x="35.5" y="27.3">S</text><rect class="S" x="0" y="36.4" width="71" height="18.2"/><text class="v" x="35.5" y="45.5">S</text><rect class="o" x="0" y="0" width="71" height="54.6"/></g>
<g id="S57" transform="translate(656,893.5)"><use href="#hdr3"/><text class="v" x="35.5" y="-63">32／8</text><text class="v" x="35.5" y="-45.5">S57</text><text class="v" x="35.5" y="-27.3">5+100</text><text class="v" x="35.5" y="-9.1">1.67</text>
<rect class="S" x="0" y="0" width="71" height="18.2"/><text class="v" x="35.5" y="9.1">S</text><rect class="S" x="0" y="18.2" width="71" height="18.2"/><text class="v" x="35.5" y="27.3">S</text><rect class="S" x="0" y="36.4" width="71" height="18.2"/><text class="v" x="35.5" y="45.5">S</text><rect class="o" x="0" y="0" width="71" height="54.6"/></g>
<g id="S58" transform="translate(758,893.5)"><use href="#hdr3"/><text class="v" x="35.5" y="-63">41／20</text><text class="v" x="35.5" y="-45.5">S58</text><text class="v" x="35.5" y="-27.3">5+200</text><text class="v" x="35.5" y="-9.1">1.05</text>
<rect class="SC" x="0" y="0" width="71" height="18.2"/><text class="v" x="35.5" y="9.1">SC</text><rect class="SC" x="0" y="18.2" width="71" height="18.2"/><text class="v" x="35.5" y="27.3">SC</text><rect class="SC" x="0" y="36.4" width="71" height="18.2"/><text class="v" x="35.5" y="45.5">SC</text><rect class="o" x="0" y="0" width="71" height="54.6"/></g>
<g id="S59" transform="translate(856.5,893.5)"><use href="#hdr3"/><text class="v" x="35.5" y="-63">31／10</text><text class="v" x="35.5" y="-45.5">S59</text><text class="v" x="35.5" y="-27.3">5+300</text><text class="v" x="35.5" y="-9.1">1.32</text>
<rect class="S" x="0" y="0" width="71" height="18.2"/><text class="v" x="35.5" y="9.1">S</text><rect class="S" x="0" y="18.2" width="71" height="18.2"/><text class="v" x="35.5" y="27.3">S</text><rect class="S" x="0" y="36.4" width="71" height="18.2"/><text class="v" x="35.5" y="45.5">S</text><rect class="o" x="0" y="0" width="71" height="54.6"/></g>
<g id="S60" transform="translate(954,893.5)"><use href="#hdr3"/><text class="v" x="35.5" y="-63">25／47</text><text class="v" x="35.5" y="-45.5">S60</text><text class="v" x="35.5" y="-27.3">5+400</text><text class="v" x="35.5" y="-9.1">1.22</text>
<rect class="SC" x="0" y="0" width="71" height="18.2"/><text class="v" x="35.5" y="9.1">SC</text><rect class="o" x="0" y="0" width="71" height="18.2"/></g>

<!-- riverbed surface lines -->
<g id="connectors">
<line class="dash" x1="13" y1="78.5" x2="1173" y2="78.5"/>
<line class="dash" x1="11" y1="241" x2="1173" y2="241"/>
<line class="dash" x1="11" y1="404.5" x2="1173" y2="404.5"/>
<line class="dash" x1="11" y1="567.5" x2="1173" y2="567.5"/>
<line class="dash" x1="11" y1="730" x2="1173" y2="730"/>
<line class="dash" x1="11" y1="893.5" x2="1173" y2="893.5"/>
</g>
<g id="surface-labels">
<text x="1058" y="70.5"><tspan class="tri">▼</tspan>riverbed surface</text>
<text x="1058" y="233"><tspan class="tri">▼</tspan>riverbed surface</text>
<text x="1058" y="396.5"><tspan class="tri">▼</tspan>riverbed surface</text>
<text x="1058" y="559.5"><tspan class="tri">▼</tspan>riverbed surface</text>
<text x="1058" y="722"><tspan class="tri">▼</tspan>riverbed surface</text>
<text x="1058" y="885.5"><tspan class="tri">▼</tspan>riverbed surface</text>
</g>

<!-- Legend -->
<g id="legend">
<rect class="SL" x="79" y="1003.5" width="71" height="19"/><text class="v" x="114.5" y="1013">SL</text>
<rect class="C" x="79" y="1022.5" width="71" height="19"/><text class="v" x="114.5" y="1032">C</text>
<rect class="SC" x="79" y="1041.5" width="71" height="19"/><text class="v" x="114.5" y="1051">SC</text>
<rect class="S" x="79" y="1060.5" width="71" height="19"/><text class="v" x="114.5" y="1070">S</text>
<rect class="o" x="79" y="1003.5" width="71" height="76"/>
<text x="161" y="1013">:</text><text x="179" y="1013">SLUDGE</text>
<text x="161" y="1032">:</text><text x="179" y="1032">CLAY</text>
<text x="161" y="1051">:</text><text x="179" y="1051">SANDY CLAY</text>
<text x="161" y="1070">:</text><text x="179" y="1070">SAND</text>
<text x="370" y="1013">MC/FC</text><text x="466" y="1013">MC:Moisture Content  ％ / FC:Fine Particle Content ％</text>
<text x="370" y="1032">No.</text><text x="466" y="1032">Sampling Number</text>
<text x="370" y="1051">Station</text>
<text x="370" y="1070">WD</text><text x="466" y="1070">Water Depth m</text>
</g>
</svg>
